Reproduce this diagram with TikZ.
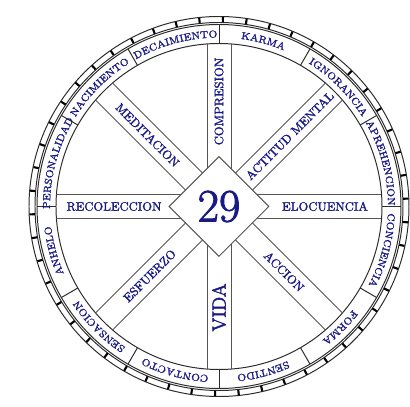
\documentclass[tikz,border=0pt]{standalone}
\usepackage{fontspec}
\usepackage{tikz}
\usetikzlibrary{shapes.geometric, decorations.text, calc}
\newfontfamily\wheelfont{Latin Modern Roman}[FakeBold=2]
\definecolor{wheelblue}{HTML}{1A1A86}
\definecolor{wheelgray}{HTML}{555555}
\definecolor{wheeldark}{HTML}{2B2B2B}
\newcommand\rimfont{\wheelfont\fontsize{7.2}{8}\selectfont}

\begin{document}
\begin{tikzpicture}[
    x=0.025cm, y=0.025cm,
    ring/.style={draw=wheeldark, line width=0.7pt},
    band/.style={draw=wheelgray, line width=0.6pt},
    tick/.style={draw=black, line width=1.5pt},
    spoke/.style={font=\wheelfont\fontsize{8.7}{9}\selectfont, text=wheelblue, inner sep=0pt},
    hub/.style={diamond, draw=wheelgray, fill=white, line width=0.7pt, minimum width=2.5cm, minimum height=2.5cm, inner sep=0pt, font=\wheelfont\fontsize{33}{33}\selectfont, text=wheelblue},
    rim/.style={decorate, decoration={text along path, text align=center, text color=wheelblue, text={|\rimfont|#1}}}
  ]
    \useasboundingbox (-219,-200.5) rectangle (191,206.5);

    \draw[ring] (0,0) circle[radius=190];
    \draw[ring] (0,0) circle[radius=184];
    \draw[ring] (0,0) circle[radius=182];
    \draw[ring] (0,0) circle[radius=163];

    \foreach \k in {0,...,49}
      \draw[tick] (60+7.2*\k:184.3) -- (60+7.2*\k:189.7);

    \foreach \a in {0,30,...,330}
      \draw[ring] (\a:163) -- (\a:182);

    \foreach \a in {0,45,90,135} {
      \draw[band] ($(\a:-162.5)+(\a+90:12)$) -- ($(\a:162.5)+(\a+90:12)$);
      \draw[band] ($(\a:-162.5)+(\a-90:12)$) -- ($(\a:162.5)+(\a-90:12)$);
    }

    \node[hub] (hub) at (0,0) {29};

    \node[spoke, rotate=90] (compresion) at (90:105) {COMPRESION};
    \node[spoke, rotate=90, font=\wheelfont\fontsize{13.5}{14}\selectfont] (vida) at (-90:101) {VIDA};
    \node[spoke] (recoleccion) at (180:105) {RECOLECCION};
    \node[spoke] (elocuencia) at (0:106) {ELOCUENCIA};
    \node[spoke, rotate=-45] (meditacion) at (135:101) {MEDITACION};
    \node[spoke, rotate=45] (actitud) at (45:100) {ACTITUD MENTAL};
    \node[spoke, rotate=45] (esfuerzo) at (-135:98) {ESFUERZO};
    \node[spoke, rotate=-45] (accion) at (-45:92) {ACCION};

    \path[rim=DECAIMIENTO] (121:169) arc[start angle=121, end angle=89, radius=169];
    \path[rim=KARMA] (91:169) arc[start angle=91, end angle=59, radius=169];
    \path[rim=IGNORANCIA] (61:169) arc[start angle=61, end angle=29, radius=169];
    \path[rim=APREHENCION] (31:169) arc[start angle=31, end angle=-1, radius=169];
    \path[rim=CONCIENCIA] (1:169) arc[start angle=1, end angle=-31, radius=169];
    \path[rim=FORMA] (-29:169) arc[start angle=-29, end angle=-61, radius=169];
    \path[rim=SENTIDO] (-59:169) arc[start angle=-59, end angle=-91, radius=169];
    \path[rim=CONTACTO] (-89:169) arc[start angle=-89, end angle=-121, radius=169];
    \path[rim=SENSACION] (-119:169) arc[start angle=-119, end angle=-151, radius=169];
    \path[rim=ANHELO] (-149:169) arc[start angle=-149, end angle=-181, radius=169];
    \path[rim=PERSONALIDAD] (181:169) arc[start angle=181, end angle=149, radius=169];
    \path[rim=NACIMIENTO] (151:169) arc[start angle=151, end angle=119, radius=169];
  \end{tikzpicture}
\end{document}
